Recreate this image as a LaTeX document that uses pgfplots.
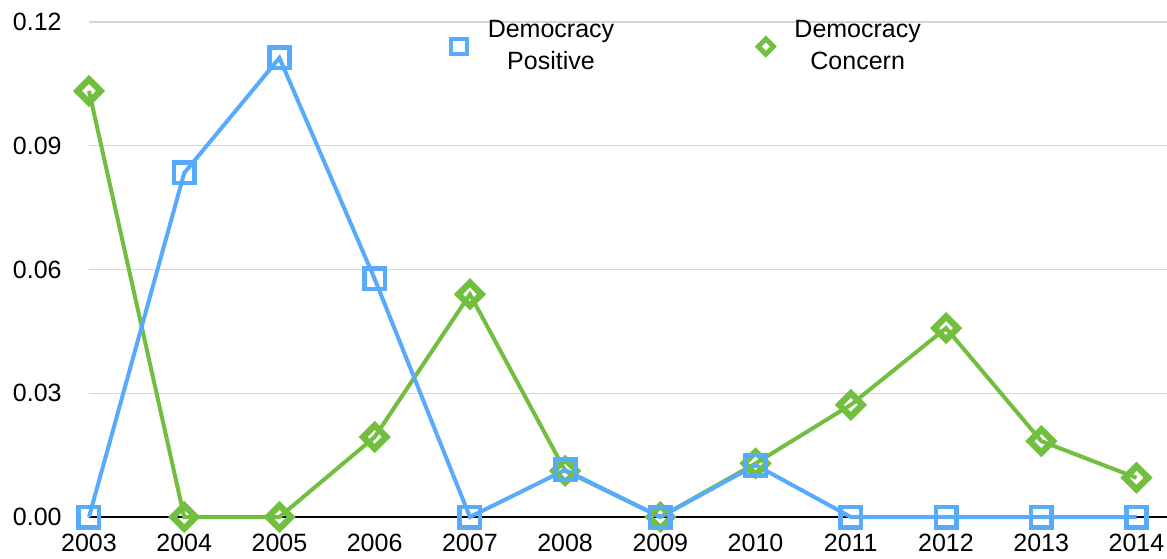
\documentclass[border=0pt]{standalone}
\usepackage{pgfplots}
\pgfplotsset{compat=1.18}
\usepackage{fontspec}
\setmainfont{Liberation Sans}
\definecolor{cblue}{RGB}{88,170,252}
\definecolor{cgreen}{RGB}{114,190,62}
\definecolor{cgrid}{RGB}{214,214,214}
\pgfplotstableread{
year pos con
2003 0      0.1033
2004 0.0834 0
2005 0.1113 0
2006 0.0577 0.0194
2007 0      0.0540
2008 0.0114 0.0112
2009 0      0
2010 0.0126 0.0130
2011 0      0.0272
2012 0      0.0458
2013 0      0.0184
2014 0      0.0095
}\datatable
\begin{document}
\begin{tikzpicture}
\begin{axis}[
  scale only axis,
  width=539pt, height=247.5pt,
  xmin=2003, xmax=2014.32,
  ymin=0, ymax=0.12,
  clip=false,
  axis x line*=bottom,
  axis y line*=left,
  x axis line style={black, line width=0.8pt},
  y axis line style={draw=none},
  ymajorgrids,
  grid style={cgrid, line width=0.6pt},
  xtick={2003,...,2014},
  ytick={0,0.03,0.06,0.09,0.12},
  major tick length=0pt,
  font=\fontsize{12.5}{16}\selectfont,
  /pgf/number format/assume math mode=true,
  xticklabel style={/pgf/number format/1000 sep={}, anchor=north, yshift=-8.5pt, inner sep=0pt},
  yticklabel style={/pgf/number format/fixed, /pgf/number format/fixed zerofill, /pgf/number format/precision=2, anchor=east, xshift=-13.5pt, inner sep=0pt},
  scaled y ticks=false,
  legend columns=2,
  legend cell align=center,
  legend style={draw=none, fill=none, at={(0.3356,1.012)}, anchor=north west, inner sep=0pt,
    cells={align=center},
    /tikz/every odd column/.append style={column sep=8.5pt},
    /tikz/every even column/.append style={column sep=70pt}},
  legend image code/.code={\draw[mark repeat=2,mark phase=2,#1] plot coordinates {(0pt,0pt) (10pt,0pt) (20pt,0pt)};},
]
\addlegendimage{cblue, only marks, mark=square, mark size=3.9pt, line width=2pt, fill=white}
\addlegendimage{cgreen, only marks, mark=square, mark size=2.7pt, line width=2.4pt, fill=white, mark options={rotate=45}}
% green series
\addplot[cgreen, line width=2pt, forget plot] table[x=year,y=con] {\datatable};
% blue series
\addplot[cblue, line width=2pt, forget plot] table[x=year,y=pos] {\datatable};
\addplot[cgreen, only marks, line width=3.2pt, mark=square, mark size=4.1pt, fill=white, mark options={rotate=45}, forget plot]
  table[x=year,y=con] {\datatable};
\addplot[cblue, only marks, line width=2.3pt, mark=square, mark size=5.1pt, fill=white, forget plot]
  table[x=year,y=pos] {\datatable};
\legend{Democracy\\Positive, Democracy\\Concern}
\path (rel axis cs:0,0) coordinate (A) (rel axis cs:1,1) coordinate (B);
\end{axis}
\pgfresetboundingbox
\path ([shift={(-44.5pt,-20.5pt)}]A) rectangle ([shift={(0pt,11pt)}]B);
\end{tikzpicture}
\end{document}
